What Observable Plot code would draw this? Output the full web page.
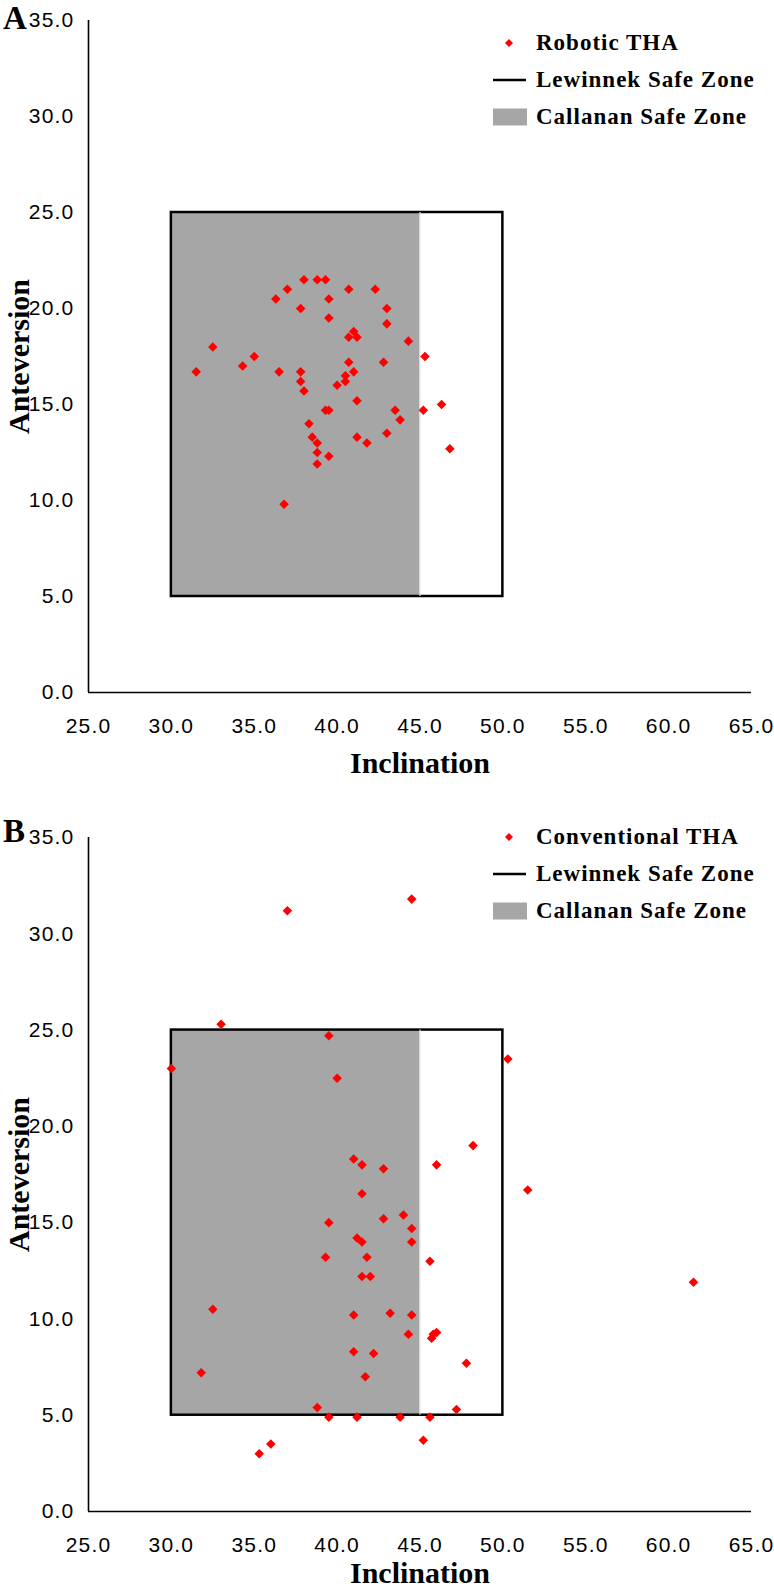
<!DOCTYPE html>
<html>
<head>
<meta charset="utf-8">
<script src="https://cdn.jsdelivr.net/npm/d3@7"></script>
<script src="https://cdn.jsdelivr.net/npm/@observablehq/plot@0.6"></script>
<style>
  html, body { margin: 0; padding: 0; background: #fff; }
  #page { position: relative; width: 774px; height: 1590px; overflow: hidden; background: #fff; }
  .panel { position: absolute; left: 0; }
  .panel svg { display: block; }
  g[aria-label="x-axis tick label"] text,
  g[aria-label="y-axis tick label"] text {
    font-family: "Liberation Sans Narrow", "Liberation Sans", sans-serif;
    font-stretch: condensed;
    font-size: 21px;
    letter-spacing: 1.2px;
    fill: #000;
  }
  g[aria-label="x-axis label"] text,
  g[aria-label="y-axis label"] text {
    font-family: "Liberation Serif", "Times New Roman", serif;
    font-weight: bold;
    font-size: 30px;
    fill: #000;
  }
  .tag { position: absolute; left: 3px; font: bold 33px "Liberation Serif", serif; line-height: 37px; color: #000; }
  .leg { position: absolute; left: 536px; font: bold 23px "Liberation Serif", serif; letter-spacing: 1px; color: #000; height: 30px; line-height: 30px; white-space: nowrap; }
  .sw { position: absolute; }
</style>
</head>
<body>
<div id="page"></div>
<script>
// ---- data ----
const xTicks = [25, 30, 35, 40, 45, 50, 55, 60, 65];
const yTicks = [0, 5, 10, 15, 20, 25, 30, 35];
const inclDomain = [25, 65];
const antDomain = [0, 35];

const lewinnekIncl = [30, 50];
const lewinnekAnt = [5, 25];
const callananIncl = [30, 45];
const callananAnt = [5, 25];

const roboticIncl = [38.0, 38.8, 39.3, 37.0, 40.7, 42.3, 36.3, 39.5, 37.8, 43.0,
  39.5, 43.0, 41.0, 40.7, 41.2, 44.3, 32.5, 35.0, 45.3, 34.3,
  40.7, 42.8, 31.5, 36.5, 37.8, 41.0, 40.5, 37.8, 40.5, 40.0,
  38.0, 41.2, 39.3, 39.5, 43.5, 45.2, 46.3, 43.8, 38.3, 38.5,
  38.8, 41.2, 41.8, 43.0, 46.8, 38.8, 39.5, 38.8, 36.8];
const roboticAnt = [21.5, 21.5, 21.5, 21.0, 21.0, 21.0, 20.5, 20.5, 20.0, 20.0,
  19.5, 19.2, 18.8, 18.5, 18.5, 18.3, 18.0, 17.5, 17.5, 17.0,
  17.2, 17.2, 16.7, 16.7, 16.7, 16.7, 16.5, 16.2, 16.2, 16.0,
  15.7, 15.2, 14.7, 14.7, 14.7, 14.7, 15.0, 14.2, 14.0, 13.3,
  13.0, 13.3, 13.0, 13.5, 12.7, 12.5, 12.3, 11.9, 9.8];

const conventionalIncl = [37.0, 44.5, 33.0, 39.5, 30.0, 50.3, 40.0, 48.2, 51.5, 41.0,
  41.5, 42.8, 46.0, 41.5, 39.5, 42.8, 44.0, 44.5, 41.2, 41.5,
  44.5, 39.3, 41.8, 45.6, 41.5, 42.0, 61.5, 32.5, 41.0, 43.2,
  44.5, 44.3, 45.8, 46.0, 45.7, 41.0, 42.2, 31.8, 41.7, 47.8,
  38.8, 39.5, 41.2, 43.8, 45.6, 47.2, 45.2, 36.0, 35.3];
const conventionalAnt = [31.2, 31.8, 25.3, 24.7, 23.0, 23.5, 22.5, 19.0, 16.7, 18.3,
  18.0, 17.8, 18.0, 16.5, 15.0, 15.2, 15.4, 14.7, 14.2, 14.0,
  14.0, 13.2, 13.2, 13.0, 12.2, 12.2, 11.9, 10.5, 10.2, 10.3,
  10.2, 9.2, 9.2, 9.3, 9.0, 8.3, 8.2, 7.2, 7.0, 7.7,
  5.4, 4.9, 4.9, 4.9, 4.9, 5.3, 3.7, 3.5, 3.0];

const seriesNames = ["Robotic THA", "Conventional THA"];
const zoneNames = ["Lewinnek Safe Zone", "Callanan Safe Zone"];

// ---- drawing ----
const fmt = d3.format(".1f");
const page = document.getElementById("page");

function zip(xs, ys) { return xs.map((x, i) => ({incl: x, ant: ys[i]})); }

function makePanel(incl, ant, opts) {
  const pts = zip(incl, ant);
  const lew = [{x1: lewinnekIncl[0], x2: lewinnekIncl[1], y1: lewinnekAnt[0], y2: lewinnekAnt[1]}];
  const cal = [{x1: callananIncl[0], x2: callananIncl[1], y1: callananAnt[0], y2: callananAnt[1]}];
  return Plot.plot({
    width: 774,
    height: opts.height,
    marginLeft: 88,
    marginRight: 23,
    marginTop: opts.marginTop,
    marginBottom: opts.marginBottom,
    x: {domain: inclDomain},
    y: {domain: antDomain},
    marks: [
      Plot.rect(cal, {x1: "x1", x2: "x2", y1: "y1", y2: "y2", fill: "#a6a6a6"}),
      Plot.rect(lew, {x1: "x1", x2: "x2", y1: "y1", y2: "y2", fill: "none", stroke: "#000", strokeWidth: 2.5}),
      Plot.ruleX([callananIncl[1]], {y1: callananAnt[0], y2: callananAnt[1], stroke: "#e2e2e2", strokeWidth: 1.2}),
      Plot.ruleY([antDomain[0]], {x1: inclDomain[0], x2: inclDomain[1], stroke: "#000", strokeWidth: 1.6}),
      Plot.ruleX([inclDomain[0]], {y1: antDomain[0], y2: antDomain[1], stroke: "#000", strokeWidth: 1.6}),
      Plot.dot(pts, {x: "incl", y: "ant", symbol: "diamond2", r: 4.3, fill: "#ff0000", stroke: "none"}),
      Plot.axisX({ticks: xTicks, tickSize: 0, tickPadding: 26, tickFormat: fmt,
        label: "Inclination", labelAnchor: "center", labelOffset: opts.xLabelOffset, labelArrow: "none"}),
      Plot.axisY({ticks: yTicks, tickSize: 0, tickPadding: 14, tickFormat: fmt,
        label: "Anteversion", labelAnchor: "center", labelOffset: 81, labelArrow: "none"})
    ]
  });
}

function addPanel(top, svg) {
  const d = document.createElement("div");
  d.className = "panel";
  d.style.top = top + "px";
  d.appendChild(svg);
  page.appendChild(d);
}

function addLegend(name, rows, tagText, tagTop) {
  const tag = document.createElement("div");
  tag.className = "tag"; tag.style.top = tagTop + "px"; tag.textContent = tagText;
  page.appendChild(tag);
  const labels = [name, zoneNames[0], zoneNames[1]];
  labels.forEach((t, i) => {
    const l = document.createElement("div");
    l.className = "leg"; l.style.top = (rows[i] - 15) + "px"; l.textContent = t;
    page.appendChild(l);
  });
  const ns = "http://www.w3.org/2000/svg";
  const s = document.createElementNS(ns, "svg");
  s.setAttribute("class", "sw");
  s.setAttribute("width", 40); s.setAttribute("height", rows[2] - rows[0] + 20);
  s.style.left = "490px"; s.style.top = (rows[0] - 10) + "px";
  const o = 10;
  const dia = document.createElementNS(ns, "path");
  const cx = 19, cy = o;
  dia.setAttribute("d", `M${cx},${cy-4}L${cx+4},${cy}L${cx},${cy+4}L${cx-4},${cy}Z`);
  dia.setAttribute("fill", "#ff0000");
  s.appendChild(dia);
  const ln = document.createElementNS(ns, "line");
  ln.setAttribute("x1", 3); ln.setAttribute("x2", 36);
  ln.setAttribute("y1", rows[1] - rows[0] + o); ln.setAttribute("y2", rows[1] - rows[0] + o);
  ln.setAttribute("stroke", "#000"); ln.setAttribute("stroke-width", 2.6);
  s.appendChild(ln);
  const rc = document.createElementNS(ns, "rect");
  rc.setAttribute("x", 3); rc.setAttribute("width", 34);
  rc.setAttribute("y", rows[2] - rows[0] + o - 8.5); rc.setAttribute("height", 17);
  rc.setAttribute("fill", "#a6a6a6");
  s.appendChild(rc);
  page.appendChild(s);
}

addPanel(0, makePanel(roboticIncl, roboticAnt, {height: 818, marginTop: 20, marginBottom: 126, xLabelOffset: 80}));
addPanel(818, makePanel(conventionalIncl, conventionalAnt, {height: 772, marginTop: 19, marginBottom: 79, xLabelOffset: 71}));

addLegend(seriesNames[0], [43, 80, 117], "A", 0);
addLegend(seriesNames[1], [837, 874, 911], "B", 813);
</script>
</body>
</html>
